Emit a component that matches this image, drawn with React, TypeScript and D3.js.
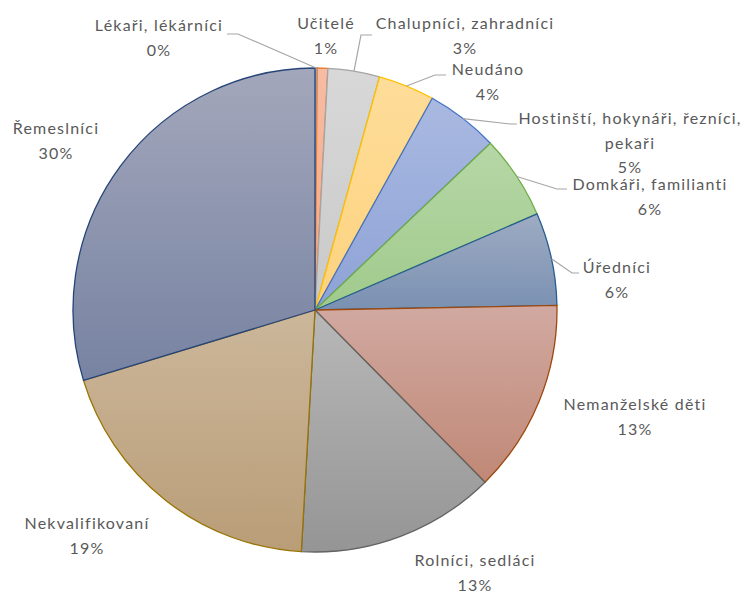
import * as d3 from 'd3';
import React, { useEffect, useRef } from 'react';

const categories = [
    "Lékaři, lékárníci",
    "Učitelé",
    "Chalupníci, zahradníci",
    "Neudáno",
    "Hostinští, hokynáři, řezníci,\npekaři",
    "Domkáři, familianti",
    "Úředníci",
    "Nemanželské děti",
    "Rolníci, sedláci",
    "Nekvalifikovaní",
    "Řemeslníci"
];

const shares = [0.15, 0.7, 3.45, 3.75, 4.85, 5.6, 6.2, 12.9, 13.3, 19.4, 29.7];

// gradient top / bottom and outline per slice
const fillTop = ["#a9c4e6", "#f7bca3", "#d8d8d8", "#fedd9a", "#a9b9e1", "#b6d7a6", "#9eabc3", "#d1a9a1", "#b8b8b8", "#ccb79b", "#a3a7bb"];
const fillBottom = ["#8fb0da", "#f2a888", "#c9c9c9", "#fdd27e", "#8ea2d6", "#a0ca8c", "#7a91b2", "#c08876", "#959595", "#b99d77", "#7783a2"];
const strokes = ["#5b9bd5", "#ed7d31", "#a5a5a5", "#ffc000", "#4472c4", "#70ad47", "#255e91", "#9e480e", "#636363", "#997300", "#264478"];

// label block centre (first line baseline) and optional leader elbow
const labelLayout = [
    { x: 159, y: 31, elbow: [238, 34], end: [227, 34] },
    { x: 326, y: 29, elbow: null, end: null },
    { x: 465, y: 29, elbow: [361, 35], end: [372, 35] },
    { x: 488, y: 75, elbow: [435, 75], end: [446, 75] },
    { x: 630, y: 124, elbow: [510, 124], end: [517, 124] },
    { x: 650, y: 190, elbow: [557, 189], end: [567, 189] },
    { x: 617, y: 273, elbow: [572, 273], end: [579, 273] },
    { x: 635, y: 410, elbow: null, end: null },
    { x: 475, y: 566, elbow: null, end: null },
    { x: 87, y: 529, elbow: null, end: null },
    { x: 56, y: 134, elbow: null, end: null }
];

const PieChart = () => {
    const chartRef = useRef(null);

    useEffect(() => {
        const container = d3.select(chartRef.current);
        container.selectAll("*").remove();

        const width = 745;
        const height = 592;
        const cx = 315;
        const cy = 310;
        const radius = 242;

        const svg = container.append("svg")
            .attr("width", width)
            .attr("height", height)
            .style("position", "absolute")
            .style("left", "0px")
            .style("top", "0px")
            .style("font-family", "Lato, 'Open Sans', sans-serif");

        const data = categories.map((name, i) => ({ name, value: shares[i], i }));
        const total = d3.sum(shares);

        const defs = svg.append("defs");
        data.forEach((d) => {
            const grad = defs.append("linearGradient")
                .attr("id", `slice-grad-${d.i}`)
                .attr("x1", 0).attr("y1", 0)
                .attr("x2", 0).attr("y2", 1);
            grad.append("stop").attr("offset", "0%").attr("stop-color", fillTop[d.i]);
            grad.append("stop").attr("offset", "100%").attr("stop-color", fillBottom[d.i]);
        });

        const pie = d3.pie().sort(null).value(d => d.value);
        const arc = d3.arc().innerRadius(0).outerRadius(radius);
        const arcs = pie(data);

        const g = svg.append("g").attr("transform", `translate(${cx},${cy})`);

        g.selectAll("path.slice")
            .data(arcs)
            .enter().append("path")
            .attr("class", "slice")
            .attr("d", arc)
            .attr("fill", d => `url(#slice-grad-${d.data.i})`)
            .attr("stroke", d => strokes[d.data.i])
            .attr("stroke-width", 1.3)
            .attr("stroke-linejoin", "round");

        // leader lines
        arcs.forEach((d) => {
            const lay = labelLayout[d.data.i];
            if (!lay.elbow) return;
            const mid = (d.startAngle + d.endAngle) / 2;
            const sx = cx + radius * Math.sin(mid);
            const sy = cy - radius * Math.cos(mid);
            svg.append("polyline")
                .attr("points", `${sx},${sy} ${lay.elbow[0]},${lay.elbow[1]} ${lay.end[0]},${lay.end[1]}`)
                .attr("fill", "none")
                .attr("stroke", "#a6a6a6")
                .attr("stroke-width", 1.2);
        });

        const pct = d3.format(".0%");

        arcs.forEach((d) => {
            const lay = labelLayout[d.data.i];
            const lines = d.data.name.split("\n").concat(pct(d.data.value / total));
            const text = svg.append("text")
                .attr("text-anchor", "middle")
                .attr("fill", "#595959")
                .style("font-size", "16px")
                .style("letter-spacing", "1.2px");
            lines.forEach((line, k) => {
                text.append("tspan")
                    .attr("x", lay.x)
                    .attr("y", lay.y + k * 24.5)
                    .text(line);
            });
        });
    }, []);

    return (
        <div ref={chartRef} className="pie-chart" />
    );
};

export default function App() {
    return <PieChart />;
}
